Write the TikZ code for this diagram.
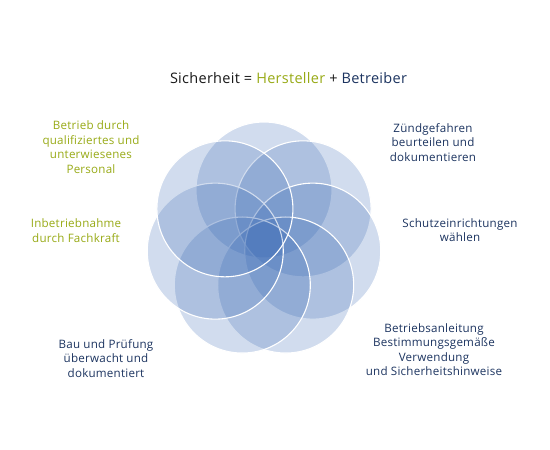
\documentclass[tikz,border=0pt]{standalone}
\usepackage{fontspec}
\setmainfont{Open Sans}[LetterSpace=2]
\usetikzlibrary{calc}
\definecolor{petalblue}{RGB}{50,100,178}
\definecolor{olive}{RGB}{152,170,22}
\definecolor{navy}{RGB}{28,52,96}
\definecolor{titleblack}{RGB}{25,25,25}
\tikzset{
  petal/.style={circle, minimum size=136pt, inner sep=0pt, fill=petalblue, fill opacity=0.22, draw=white, draw opacity=1, line width=1.1pt},
  lab/.style={align=center, font=\fontsize{11.6}{14.5}\selectfont, inner sep=0pt},
  grn/.style={lab, text=olive},
  nvy/.style={lab, text=navy}
}
\begin{document}
\begin{tikzpicture}[x=1pt,y=-1pt]
\useasboundingbox (0,0) rectangle (550,450);
\fill[white] (0,0) rectangle (550,450);
\coordinate (ctr) at (264,240);
\foreach \a [count=\i] in {90,38.571,-12.857,-64.286,-115.714,-167.143,141.429}
  \node[petal] (c\i) at ($(ctr)+(-\a:50)$) {};
\node[lab, font=\fontsize{14.5}{17}\selectfont] (title) at (288.5,78)
  {\textcolor{titleblack}{Sicherheit =} \textcolor{olive}{Hersteller} \textcolor{titleblack}{+} \textcolor{navy}{Betreiber}};
\node[grn] (t1) at (91,147) {Betrieb durch\\qualifiziertes und\\unterwiesenes\\Personal};
\node[grn] (t2) at (76,230.5) {Inbetriebnahme\\durch Fachkraft};
\node[nvy] (t3) at (106,358.5) {Bau und Prüfung\\überwacht und\\dokumentiert};
\node[nvy] (t4) at (433,142.5) {Zündgefahren\\beurteilen und\\dokumentieren};
\node[nvy] (t5) at (460,230) {Schutzeinrichtungen\\wählen};
\node[nvy] (t6) at (434,349.5) {Betriebsanleitung\\Bestimmungsgemäße\\Verwendung\\und Sicherheitshinweise};
\end{tikzpicture}
\end{document}
